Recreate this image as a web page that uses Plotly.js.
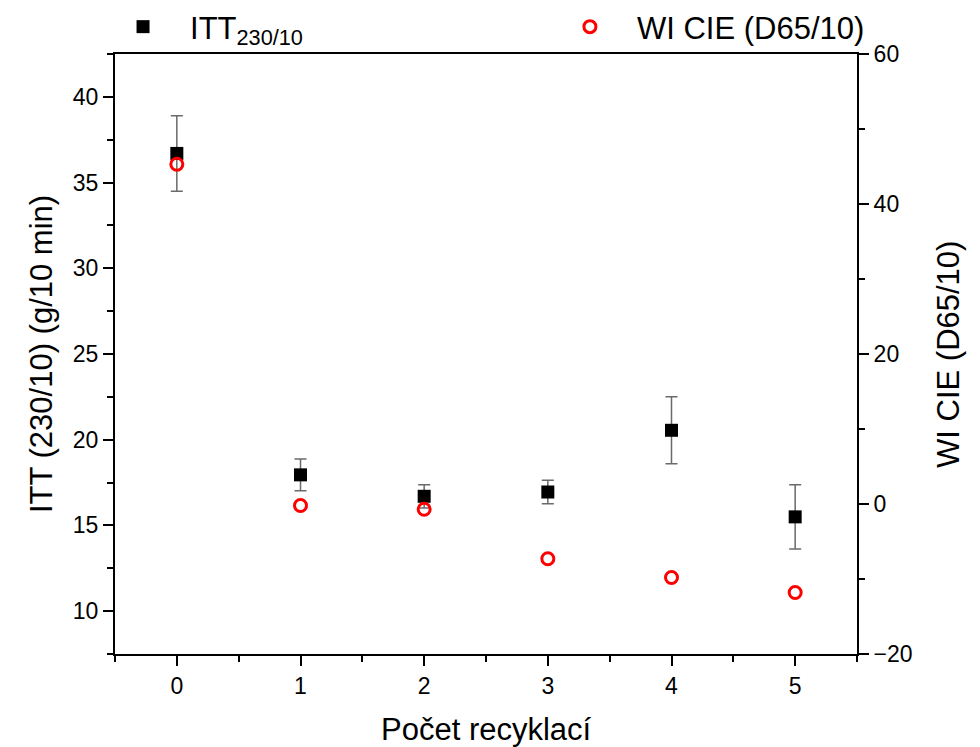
<!DOCTYPE html>
<html>
<head>
<meta charset="utf-8">
<script src="https://cdn.plot.ly/plotly-3.0.1.min.js"></script>
<style>html,body{margin:0;padding:0;background:#fff;}#chart{width:980px;height:747px;}</style>
</head>
<body>
<div id="chart"></div>
<script>
const cycles = [0, 1, 2, 3, 4, 5];
const ittValues = [36.7, 17.95, 16.7, 16.95, 20.55, 15.5];
const ittErrors = [2.2, 0.93, 0.68, 0.68, 1.95, 1.87];
const wiValues = [45.3, -0.2, -0.7, -7.3, -9.8, -11.8];
const xTicks = [0, 1, 2, 3, 4, 5];
const yTicks = [10, 15, 20, 25, 30, 35, 40];
const y2Ticks = [-20, 0, 20, 40, 60];
const xTitle = 'Počet recyklací';
const yTitle = 'ITT (230/10) (g/10 min)';
const y2Title = 'WI CIE (D65/10)';

const font = 'Liberation Sans, Arial, sans-serif';

const traces = [
  {
    x: cycles, y: ittValues, type: 'scatter', mode: 'markers',
    name: 'ITT<sub>230/10</sub>',
    marker: {symbol: 'square', size: 13, color: '#000'},
    error_y: {type: 'data', array: ittErrors, visible: true, color: 'rgba(80,80,80,0.85)', thickness: 1.5, width: 6},
    legend: 'legend', xaxis: 'x', yaxis: 'y'
  },
  {
    x: cycles, y: wiValues, type: 'scatter', mode: 'markers',
    name: 'WI CIE (D65/10)',
    marker: {symbol: 'circle-open', size: 12, color: '#ff0000', line: {width: 3, color: '#ff0000'}},
    legend: 'legend2', xaxis: 'x', yaxis: 'y2'
  }
];

const axisCommon = {
  ticks: 'outside', ticklen: 10, tickwidth: 2, tickcolor: '#000',
  showline: true, linecolor: '#000', linewidth: 2,
  showgrid: false, zeroline: false, automargin: false,
  tickfont: {family: font, size: 23, color: '#000'}
};

const layout = {
  width: 980, height: 747,
  margin: {l: 115, r: 123, t: 54, b: 93, autoexpand: false},
  paper_bgcolor: '#fff', plot_bgcolor: '#fff',
  font: {family: font, size: 23, color: '#000'},
  showlegend: true,
  legend: {xref: 'container', yref: 'container', x: 0.098, y: 1.019, xanchor: 'left', yanchor: 'top',
           itemwidth: 84, font: {family: font, size: 31, color: '#000'}, bgcolor: 'rgba(0,0,0,0)'},
  legend2: {xref: 'container', yref: 'container', x: 0.554, y: 1.019, xanchor: 'left', yanchor: 'top',
            itemwidth: 84, font: {family: font, size: 31, color: '#000'}, bgcolor: 'rgba(0,0,0,0)'},
  xaxis: Object.assign({}, axisCommon, {
    range: [-0.5, 5.5], tickvals: xTicks, ticktext: xTicks.map(String), mirror: true,
    minor: {dtick: 0.5, tick0: 0.5, ticks: 'outside', ticklen: 6, tickwidth: 2, tickcolor: '#000'}
  }),
  yaxis: Object.assign({}, axisCommon, {
    range: [7.5, 42.5], tickvals: yTicks,
    minor: {dtick: 2.5, tick0: 7.5, ticks: 'outside', ticklen: 6, tickwidth: 2, tickcolor: '#000'}
  }),
  yaxis2: Object.assign({}, axisCommon, {
    overlaying: 'y', side: 'right',
    range: [-20, 60], tickvals: y2Ticks,
    minor: {dtick: 10, tick0: -10, ticks: 'outside', ticklen: 6, tickwidth: 2, tickcolor: '#000'}
  }),
  annotations: [
    {text: xTitle, xref: 'paper', yref: 'paper', x: 0.5, y: -0.125, xanchor: 'center', yanchor: 'middle',
     showarrow: false, font: {family: font, size: 31, color: '#000'}},
    {text: yTitle, xref: 'paper', yref: 'paper', x: -0.0997, y: 0.5, xanchor: 'center', yanchor: 'middle',
     textangle: -90, showarrow: false, font: {family: font, size: 31, color: '#000'}},
    {text: y2Title, xref: 'paper', yref: 'paper', x: 1.1226, y: 0.5, xanchor: 'center', yanchor: 'middle',
     textangle: -90, showarrow: false, font: {family: font, size: 31, color: '#000'}}
  ]
};

Plotly.newPlot('chart', traces, layout, {displayModeBar: false, staticPlot: true});
</script>
</body>
</html>
